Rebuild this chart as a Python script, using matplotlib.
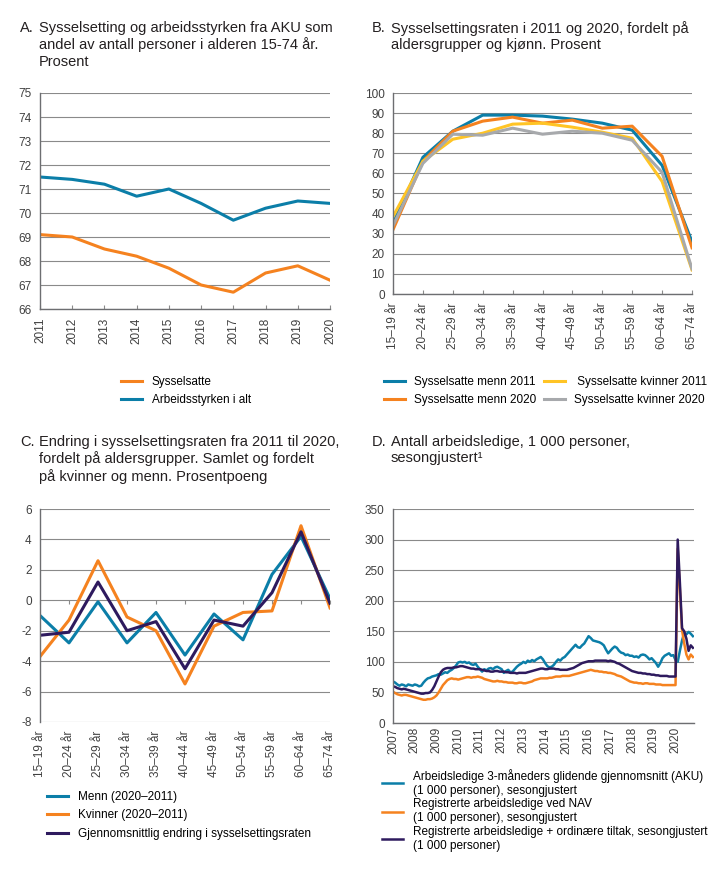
import numpy as np
import matplotlib
matplotlib.use('Agg')
import matplotlib.pyplot as plt

plt.rcParams['font.family'] = ['Liberation Sans', 'DejaVu Sans']
plt.rcParams['axes.unicode_minus'] = False

# Colours
BLUE = '#0b7ea8'
ORANGE = '#f5821f'
YELLOW = '#ffc425'
GREY = '#a7a9ac'
PURPLE = '#2e1a5e'
GRID = '#8a8a8a'
SPINE = '#6d6e71'
TEXT = '#231f20'

# Panel A data
years_a = [2011, 2012, 2013, 2014, 2015, 2016, 2017, 2018, 2019, 2020]
sysselsatte = [69.1, 69.0, 68.5, 68.2, 67.7, 67.0, 66.7, 67.5, 67.8, 67.2]
arbeidsstyrken = [71.5, 71.4, 71.2, 70.7, 71.0, 70.4, 69.7, 70.2, 70.5, 70.4]

# Panel B data
age_groups = ['15–19 år', '20–24 år', '25–29 år', '30–34 år', '35–39 år', '40–44 år',
              '45–49 år', '50–54 år', '55–59 år', '60–64 år', '65–74 år']
menn_2011 = [35, 68, 81, 89, 89, 88.5, 87, 85, 81.5, 64, 26]
menn_2020 = [32, 66, 81, 86, 88, 85, 86.5, 82.5, 83.5, 68.5, 23]
kvinner_2011 = [38.5, 66, 77, 80, 84.5, 85, 83, 80.5, 77.5, 56, 12]
kvinner_2020 = [34, 65, 79.5, 79, 82.5, 79.5, 81, 80, 76.5, 60.5, 12.5]

# Panel C data
endring_menn = [-1.0, -2.8, -0.1, -2.8, -0.8, -3.6, -0.9, -2.6, 1.7, 4.2, 0.1]
endring_kvinner = [-3.7, -1.3, 2.6, -1.1, -2.0, -5.5, -1.7, -0.8, -0.7, 4.9, -0.5]
endring_snitt = [-2.3, -2.1, 1.2, -2.0, -1.4, -4.5, -1.3, -1.7, 0.5, 4.5, -0.2]

# Panel D data, one value every 0.1 year from 2007.0
aku = [68, 66, 63, 61, 63, 62, 60, 63, 62, 61,
       63, 62, 60, 61, 66, 70, 73, 74, 76, 77,
       78, 80, 79, 81, 83, 82, 85, 87, 90, 94,
       99, 100, 99, 100, 98, 99, 96, 95, 97, 92,
       88, 84, 88, 86, 89, 90, 88, 91, 92, 90,
       88, 82, 85, 87, 83, 84, 88, 92, 95, 97,
       100, 98, 102, 100, 103, 101, 104, 106, 108, 104,
       98, 93, 91, 92, 95, 100, 104, 102, 106, 108,
       112, 116, 120, 124, 128, 124, 123, 127, 130, 136,
       142, 139, 135, 134, 133, 132, 130, 127, 120, 114,
       118, 122, 125, 123, 118, 115, 114, 111, 112, 110,
       110, 108, 109, 107, 111, 112, 111, 108, 104, 106,
       102, 98, 92, 98, 106, 110, 112, 114, 110, 111,
       103, 100, 118, 135, 147, 145, 149, 146, 142]
nav = [51, 49, 47, 46, 45, 46, 46, 45, 44, 43,
       42, 41, 40, 39, 38, 38, 39, 39, 40, 42,
       45, 50, 56, 62, 66, 70, 72, 73, 72, 72,
       71, 72, 73, 74, 75, 75, 74, 75, 75, 76,
       75, 74, 72, 71, 70, 69, 68, 68, 69, 68,
       68, 67, 67, 66, 66, 66, 65, 65, 66, 66,
       65, 65, 66, 67, 68, 70, 71, 72, 73, 73,
       73, 73, 74, 74, 75, 76, 76, 76, 77, 77,
       77, 77, 78, 79, 80, 81, 82, 83, 84, 85,
       86, 87, 86, 85, 85, 84, 84, 83, 83, 82,
       82, 81, 80, 78, 77, 76, 74, 72, 70, 68,
       67, 66, 66, 65, 65, 64, 65, 65, 64, 64,
       64, 63, 63, 63, 62, 62, 62, 62, 62, 62,
       62, 285, 220, 152, 130, 112, 104, 112, 108]
nav_tiltak = [60, 59, 57, 56, 55, 56, 55, 54, 53, 52,
              51, 50, 49, 48, 48, 49, 49, 50, 54, 60,
              68, 76, 83, 87, 89, 90, 90, 90, 91, 91,
              92, 93, 93, 92, 91, 90, 89, 89, 88, 88,
              88, 87, 86, 85, 85, 84, 84, 85, 85, 84,
              84, 84, 83, 83, 82, 82, 82, 81, 82, 82,
              82, 82, 83, 84, 85, 86, 87, 88, 89, 89,
              88, 88, 89, 89, 89, 88, 88, 87, 87, 87,
              87, 88, 89, 90, 92, 94, 96, 98, 99, 100,
              101, 101, 101, 102, 102, 102, 102, 102, 102, 101,
              102, 101, 100, 98, 97, 95, 93, 91, 89, 87,
              85, 84, 83, 82, 82, 81, 81, 80, 80, 79,
              79, 78, 78, 77, 77, 77, 77, 76, 76, 76,
              76, 300, 230, 155, 150, 138, 118, 127, 123]
d_years = list(range(2007, 2021))

TICK_FS = 8.5
LEG_FS = 8.5
TITLE_FS = 10.5


def style_axes(ax):
    for side in ['top', 'right']:
        ax.spines[side].set_visible(False)
    for side in ['left', 'bottom']:
        ax.spines[side].set_color(SPINE)
        ax.spines[side].set_linewidth(1.0)
    ax.grid(axis='y', color=GRID, linewidth=0.8)
    ax.set_axisbelow(True)
    ax.tick_params(axis='y', length=0, pad=6, labelsize=TICK_FS, labelcolor='#404040')
    ax.tick_params(axis='x', direction='in', length=3, color=GRID, pad=6,
                   labelsize=TICK_FS, labelcolor='#404040', labelrotation=90)


def add_title(letter, text, x, y):
    fig.text(x / 719, 1 - y / 872, letter, ha='left', va='top', fontsize=TITLE_FS, color=TEXT)
    fig.text((x + 19) / 719, 1 - y / 872, text, ha='left', va='top', fontsize=TITLE_FS,
             color=TEXT, linespacing=1.2)


def fig_box(left, top, right, bottom):
    return [left / 719, 1 - bottom / 872, (right - left) / 719, (bottom - top) / 872]


fig = plt.figure(figsize=(7.19, 8.72), dpi=100)

# A
ax_a = fig.add_axes(fig_box(40, 93, 330, 309))
style_axes(ax_a)
la1, = ax_a.plot(years_a, sysselsatte, color=ORANGE, lw=2.2)
la2, = ax_a.plot(years_a, arbeidsstyrken, color=BLUE, lw=2.2)
ax_a.set_xlim(2011, 2020)
ax_a.set_ylim(66, 75)
ax_a.set_yticks(range(66, 76))
ax_a.set_xticks(years_a)
ax_a.legend([la1, la2], ['Sysselsatte', 'Arbeidsstyrken i alt'], loc='upper left',
            bbox_to_anchor=(121 / 719, 1 - 376 / 872), bbox_transform=fig.transFigure,
            frameon=False, fontsize=LEG_FS, handlelength=1.8, handletextpad=0.8,
            labelspacing=0.5, borderpad=0, borderaxespad=0)
add_title('A.', 'Sysselsetting og arbeidsstyrken fra AKU som\nandel av antall personer i alderen 15-74 år.\nProsent', 20, 21)

# B
ax_b = fig.add_axes(fig_box(393, 93, 692, 294))
style_axes(ax_b)
xb = np.arange(len(age_groups))
lb1, = ax_b.plot(xb, menn_2011, color=BLUE, lw=2.2)
lb2, = ax_b.plot(xb, menn_2020, color=ORANGE, lw=2.2)
lb3, = ax_b.plot(xb, kvinner_2011, color=YELLOW, lw=2.2)
lb4, = ax_b.plot(xb, kvinner_2020, color=GREY, lw=2.2)
ax_b.set_xlim(0, len(age_groups) - 1)
ax_b.set_ylim(0, 100)
ax_b.set_yticks(range(0, 101, 10))
ax_b.set_xticks(xb)
ax_b.set_xticklabels(age_groups)
ax_b.legend([lb1, lb2, lb3, lb4],
            ['Sysselsatte menn 2011', 'Sysselsatte menn 2020',
             ' Sysselsatte kvinner 2011', 'Sysselsatte kvinner 2020'],
            ncol=2, loc='upper left',
            bbox_to_anchor=(384 / 719, 1 - 376 / 872), bbox_transform=fig.transFigure,
            frameon=False, fontsize=LEG_FS, handlelength=1.8, handletextpad=0.7,
            labelspacing=0.5, columnspacing=0.7, borderpad=0, borderaxespad=0)
add_title('B.', 'Sysselsettingsraten i 2011 og 2020, fordelt på\naldersgrupper og kjønn. Prosent', 372, 21)

# C
ax_c = fig.add_axes(fig_box(40, 509, 330, 722))
style_axes(ax_c)
xc = np.arange(len(age_groups))
lc1, = ax_c.plot(xc, endring_menn, color=BLUE, lw=2.2)
lc2, = ax_c.plot(xc, endring_kvinner, color=ORANGE, lw=2.2)
lc3, = ax_c.plot(xc, endring_snitt, color=PURPLE, lw=2.2)
ax_c.set_xlim(0, len(age_groups) - 1)
ax_c.set_ylim(-8, 6)
ax_c.set_yticks(range(-8, 7, 2))
ax_c.set_xticks(xc)
ax_c.set_xticklabels(age_groups)
ax_c.spines['bottom'].set_visible(False)
ax_c.tick_params(axis='x', length=0)
sec = ax_c.secondary_xaxis(8 / 14)
sec.set_xticks(xc)
sec.tick_params(axis='x', direction='in', length=3, color=GRID, labelbottom=False, labeltop=False)
for s in sec.spines.values():
    s.set_visible(False)
ax_c.legend([lc1, lc2, lc3], ['Menn (2020–2011)', 'Kvinner (2020–2011)',
                               'Gjennomsnittlig endring i sysselsettingsraten'],
            loc='upper left',
            bbox_to_anchor=(47 / 719, 1 - 791 / 872), bbox_transform=fig.transFigure,
            frameon=False, fontsize=LEG_FS, handlelength=1.8, handletextpad=0.8,
            labelspacing=0.55, borderpad=0, borderaxespad=0)
add_title('C.', 'Endring i sysselsettingsraten fra 2011 til 2020,\nfordelt på aldersgrupper. Samlet og fordelt\npå kvinner og menn. Prosentpoeng', 20, 435)

# D
ax_d = fig.add_axes(fig_box(393, 509, 694, 723))
style_axes(ax_d)
xd = 2007 + 0.1 * np.arange(len(aku))
ld1, = ax_d.plot(xd, aku, color=BLUE, lw=1.8)
ld2, = ax_d.plot(xd, nav, color=ORANGE, lw=1.8)
ld3, = ax_d.plot(xd, nav_tiltak, color=PURPLE, lw=1.8)
ax_d.set_xlim(2007, 2020.85)
ax_d.set_ylim(0, 350)
ax_d.set_yticks(range(0, 351, 50))
ax_d.set_xticks(d_years)
ax_d.tick_params(axis='x', length=0, pad=3)
ax_d.legend([ld1, ld2, ld3],
            ['Arbeidsledige 3-måneders glidende gjennomsnitt (AKU)\n(1 000 personer), sesongjustert',
             'Registrerte arbeidsledige ved NAV\n(1 000 personer), sesongjustert',
             'Registrerte arbeidsledige + ordinære tiltak, sesongjustert\n(1 000 personer)'],
            loc='upper left',
            bbox_to_anchor=(382 / 719, 1 - 769 / 872), bbox_transform=fig.transFigure,
            frameon=False, fontsize=LEG_FS, handlelength=1.8, handletextpad=0.8,
            labelspacing=0.15, borderpad=0, borderaxespad=0)
add_title('D.', 'Antall arbeidsledige, 1 000 personer,\nsesongjustert¹', 372, 435)

fig.savefig('out.png', dpi=100)
